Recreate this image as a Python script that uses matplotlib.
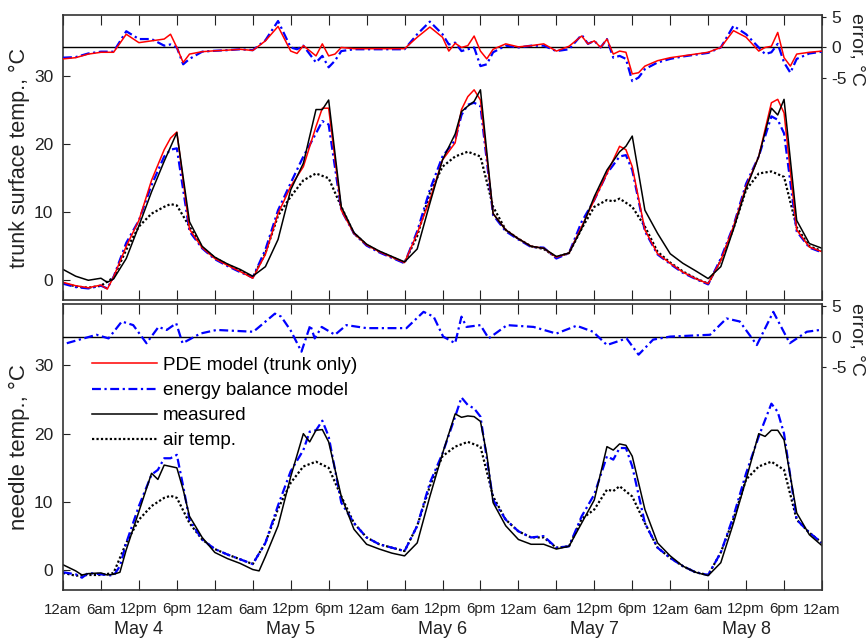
import numpy as np
import matplotlib.pyplot as plt
from matplotlib.lines import Line2D
from matplotlib.transforms import blended_transform_factory

plt.rcParams['font.family'] = ['Liberation Sans', 'DejaVu Sans']

# hours since 12am May 4
# ---- trunk surface (top panel) ----
trunk_meas_t = [0, 2, 4, 6, 7, 8, 10, 12, 14, 16, 18, 20, 22, 24, 26, 28, 30, 32, 34, 36, 38, 40, 41, 42,
                44, 46, 48, 50, 52, 54, 56, 58, 60, 62, 63, 64, 65, 66, 68, 70, 72, 74, 76, 78, 80, 82,
                84, 86, 88, 89, 90, 92, 94, 96, 98, 100, 102, 104, 106, 108, 110, 112, 113, 114, 116, 118, 120]
trunk_meas = [1.6, 0.6, 0.0, 0.3, -0.3, 0.2, 3.2, 8.0, 13.0, 17.5, 21.7, 8.6, 5.0, 3.4, 2.4, 1.6, 0.6, 2.0, 6.0,
              13.3, 17.2, 25.1, 25.1, 26.5, 10.8, 7.0, 5.3, 4.3, 3.5, 2.7, 4.6, 11.3, 17.7, 21.5, 24.8, 25.6,
              26.3, 28.0, 9.8, 7.4, 6.1, 5.0, 4.7, 3.5, 4.0, 7.6, 12.3, 16.2, 18.9, 19.7, 21.2, 10.3, 6.9,
              3.9, 2.5, 1.4, 0.25, 2.0, 7.5, 13.5, 18.2, 25.3, 24.3, 26.6, 8.8, 5.4, 4.7]

trunk_t = [0, 2, 4, 6, 7, 8, 10, 12, 14, 16, 17, 18, 20, 22, 24, 26, 28, 30, 32, 34, 36, 38, 40, 41, 42,
           44, 46, 48, 50, 52, 54, 56, 58, 60, 62, 63, 64, 65, 66, 68, 70, 72, 74, 76, 78, 80, 82,
           84, 86, 88, 89, 90, 92, 94, 96, 98, 100, 102, 104, 106, 108, 110, 112, 113, 114, 116, 118, 120]
trunk_pde = [-0.3, -0.8, -1.1, -0.7, -1.3, 0.5, 5.0, 8.8, 14.7, 19.2, 20.9, 21.8, 7.5, 4.8, 3.2, 2.2, 1.3, 0.3,
             3.8, 9.8, 13.8, 16.7, 22.6, 25.3, 25.3, 10.3, 6.9, 5.2, 4.2, 3.4, 2.6, 6.9, 11.8, 17.7, 20.2,
             25.1, 27.0, 28.0, 26.5, 9.8, 7.4, 6.1, 5.0, 4.7, 3.4, 4.0, 7.9, 11.8, 15.7, 19.7, 19.2, 16.7,
             7.4, 3.9, 2.5, 1.2, 0.25, -0.5, 2.9, 7.9, 13.8, 18.2, 26.1, 26.6, 24.6, 7.4, 4.9, 4.2]
trunk_ebm = [-0.5, -1.0, -1.2, -0.8, -1.2, 0.5, 5.5, 8.8, 14.0, 18.2, 19.2, 19.4, 7.2, 4.7, 3.1, 2.1, 1.2, 0.4,
             4.5, 10.3, 14.3, 18.2, 21.6, 23.4, 22.9, 10.3, 6.9, 5.1, 4.1, 3.3, 2.5, 7.2, 13.3, 18.2, 20.6,
             24.3, 25.8, 26.1, 25.6, 9.6, 7.2, 6.0, 4.9, 4.8, 3.2, 4.0, 8.6, 11.8, 15.7, 18.2, 18.4, 16.2,
             7.2, 3.8, 2.4, 1.1, 0.2, -0.6, 3.2, 8.0, 14.2, 18.2, 24.1, 23.6, 21.6, 7.2, 4.8, 4.1]

trunk_air_t = [0, 2, 4, 6, 8, 10, 12, 14, 16, 17, 18, 20, 22, 24, 26, 28, 30, 32, 34, 36, 38, 40, 42, 44,
               46, 48, 50, 52, 54, 56, 58, 60, 62, 64, 66, 68, 70, 72, 74, 76, 78, 80, 82, 84, 86, 87,
               88, 90, 92, 94, 96, 98, 100, 102, 104, 106, 108, 110, 112, 114, 116, 118, 120]
trunk_air = [-0.4, -0.9, -1.1, -0.8, 0.4, 4.5, 7.9, 9.8, 10.8, 11.2, 11.0, 7.9, 4.8, 3.3, 2.3, 1.4, 0.4, 4.0,
             9.5, 12.3, 14.7, 15.7, 15.0, 10.8, 6.9, 5.2, 4.2, 3.4, 2.6, 6.5, 12.8, 16.7, 18.2, 18.9, 18.2,
             10.8, 7.4, 6.1, 5.0, 4.6, 3.4, 4.0, 7.6, 10.8, 11.8, 11.6, 12.0, 10.8, 7.9, 4.2, 2.6, 1.3, 0.3,
             -0.5, 2.9, 7.6, 13.3, 15.7, 16.0, 15.2, 7.8, 5.0, 4.3]

trunk_err_t = [0, 2, 4, 6, 8, 10, 12, 14, 16, 17, 18, 19, 20, 22, 24, 26, 28, 30, 32, 34, 36, 37, 38, 40,
               41, 42, 43, 44, 46, 50, 54, 56, 58, 60, 61, 62, 63, 64, 65, 66, 67, 68, 70, 72, 74, 76,
               78, 80, 82, 83, 84, 85, 86, 87, 88, 89, 90, 91, 92, 94, 96, 98, 100, 102, 104, 106, 108,
               110, 111, 112, 113, 114, 115, 116, 118, 120]
trunk_err_pde = [-1.9, -1.7, -1.1, -0.8, -0.8, 2.2, 0.8, 1.1, 1.4, 2.2, 0, -2.5, -1.1, -0.7, -0.55, -0.45,
                 -0.3, -0.5, 1.1, 3.5, -0.6, -1.0, 0.3, -1.4, 0.6, -1.4, -1.1, 0, -0.2, -0.2, -0.2, 1.7,
                 3.4, 1.7, -0.6, 0.7, 0, 0.3, 1.9, -0.6, -1.9, -0.3, 0.6, 0.1, 0.3, 0.6, -0.6, 0.2, 1.9,
                 0.6, 1.1, 0, 1.4, -1.1, -0.6, -0.8, -4.4, -4.2, -3.1, -2.2, -1.7, -1.4, -1.1, -0.8, 0,
                 2.8, 1.7, -0.6, 0, 0.2, 2.5, -1.7, -3.1, -1.1, -0.8, -0.6]
trunk_err_ebm = [-1.7, -1.6, -1.0, -0.7, -0.7, 2.7, 1.4, 1.4, 0.3, 0.5, 0, -2.8, -1.9, -0.7, -0.55, -0.45,
                 -0.3, -0.45, 1.2, 4.4, 0, -0.3, 0.3, -2.5, -1.4, -3.3, -2.2, -0.6, -0.3, -0.3, -0.3, 2.2,
                 4.3, 2.2, 0.5, 0.8, -0.6, -0.3, 0, -3.1, -2.8, -0.8, 0.3, 0.0, 0.3, 0.3, -0.6, -0.3, 2.1,
                 0.6, 1.1, 0, 1.4, -1.7, -1.4, -1.9, -5.6, -5.0, -3.6, -2.5, -1.9, -1.5, -1.2, -0.9, 0,
                 3.6, 2.2, 0, -1.1, -0.8, 0.6, -2.5, -4.2, -1.9, -1.0, -0.7]

# ---- needles (bottom panel) ----
needle_meas_t = [0, 2, 3, 4, 6, 7, 8, 9, 10, 12, 14, 15, 16, 18, 19, 20, 22, 24, 26, 28, 30, 31, 32, 34, 36,
                 38, 39, 40, 41, 42, 44, 46, 48, 50, 52, 54, 56, 58, 60, 62, 63, 64, 65, 66, 67, 68, 70, 72,
                 74, 76, 78, 80, 82, 84, 86, 87, 88, 89, 90, 92, 94, 96, 98, 100, 102, 104, 106, 108, 110,
                 111, 112, 113, 114, 116, 118, 120]
needle_meas = [0.8, -0.1, -0.7, -0.5, -0.4, -0.7, -0.6, -0.3, 3.0, 8.6, 14.2, 13.3, 15.4, 15.0, 11.8, 7.9,
               4.8, 2.6, 1.7, 1.0, 0.1, -0.1, 2.0, 6.5, 13.7, 20.0, 18.8, 20.5, 20.6, 18.8, 10.8, 6.0, 3.8,
               3.1, 2.5, 2.1, 4.0, 10.8, 17.1, 22.9, 22.4, 22.6, 22.5, 21.8, 17.0, 9.9, 6.5, 4.5, 3.8, 3.8,
               3.1, 3.5, 6.9, 10.3, 18.1, 17.6, 18.5, 18.3, 16.7, 8.9, 4.0, 2.1, 0.6, -0.3, -0.8, 1.1, 6.9,
               13.3, 20.0, 19.6, 20.5, 20.5, 19.1, 8.4, 5.2, 3.6]

needle_ebm_t = [0, 2, 3, 4, 6, 8, 9, 10, 12, 14, 15, 16, 17, 18, 19, 20, 22, 24, 26, 28, 30, 32, 34, 36, 38,
                39, 40, 41, 42, 44, 46, 48, 50, 52, 54, 56, 58, 60, 62, 63, 64, 65, 66, 68, 70, 72, 74, 76,
                78, 80, 82, 84, 86, 87, 88, 89, 90, 92, 94, 96, 98, 100, 102, 104, 106, 108, 110, 112,
                113, 114, 116, 118, 120]
needle_ebm = [-0.3, -0.6, -1.1, -0.4, -0.6, -0.8, 0.6, 4.0, 9.4, 14.0, 14.7, 16.4, 16.4, 16.9, 12.3, 7.4,
              4.5, 3.1, 2.3, 1.6, 0.9, 4.0, 9.5, 14.5, 17.6, 20.3, 20.5, 21.9, 19.6, 9.9, 6.9, 4.8, 3.8, 3.3,
              2.8, 6.5, 12.8, 17.1, 22.5, 25.3, 24.2, 23.7, 22.5, 10.3, 7.4, 5.7, 4.8, 5.0, 3.3, 3.5, 7.9,
              11.1, 16.7, 16.2, 17.9, 17.9, 15.2, 6.9, 3.3, 1.8, 0.6, -0.3, -0.7, 2.6, 7.9, 14.2, 19.6,
              24.4, 23.2, 20.0, 7.4, 5.5, 4.0]

needle_air_t = [0, 2, 4, 6, 8, 10, 12, 14, 16, 17, 18, 20, 22, 24, 26, 28, 30, 32, 34, 36, 38, 40, 42, 44,
                46, 48, 50, 52, 54, 56, 58, 60, 62, 64, 66, 68, 70, 72, 74, 76, 78, 80, 82, 84, 86, 87,
                88, 90, 92, 94, 96, 98, 100, 102, 104, 106, 108, 110, 112, 114, 116, 118, 120]
needle_air = [-0.4, -0.8, -0.7, -0.7, -0.4, 4.0, 7.4, 9.4, 10.6, 10.9, 10.6, 6.9, 4.5, 3.1, 2.3, 1.6, 0.9,
              4.0, 9.0, 12.8, 15.2, 15.9, 15.0, 10.8, 6.9, 4.8, 3.8, 3.3, 2.8, 6.5, 12.3, 16.7, 18.1, 18.8,
              18.1, 10.8, 7.4, 5.7, 4.8, 4.8, 3.3, 3.5, 7.5, 8.9, 11.8, 11.6, 12.3, 10.8, 6.9, 3.3, 1.8,
              0.6, -0.3, -0.7, 2.6, 7.5, 13.3, 15.2, 15.9, 14.7, 7.4, 5.5, 4.0]

needle_err_t = [0.6, 5.3, 7.2, 9.3, 11.1, 13.2, 15.1, 16.4, 17.9, 18.9, 21.7, 24.3, 30.1, 33.5, 34.5, 36,
                37.7, 39.1, 39.8, 40.9, 43.0, 44.8, 48, 54.3, 57.0, 58.6, 60.1, 62.0, 63.0, 63.8, 66.0,
                67.3, 70.2, 74.4, 78.0, 81.2, 83.8, 86.0, 89.1, 91.0, 93.3, 96.0, 102.3, 104.9, 107.0,
                109.7, 112.3, 114.9, 117.6, 119.7, 120]
needle_err_ebm = [-1.1, 0.3, -0.3, 2.5, 1.9, -1.1, 1.6, 1.1, 2.2, -1.1, 0.5, 1.1, 0.8, 3.8, 3.3, 1.0, -2.5,
                  1.9, -0.3, 1.6, 0.3, 1.9, 1.4, 1.4, 4.1, 3.3, 0, -1.1, 3.3, 1.6, 1.9, -0.3, 1.9, 1.6,
                  0.5, 1.8, 0.8, -1.4, -0.3, -3.0, -0.5, 0, 0.3, 3.0, 2.5, -1.4, 4.1, -1.1, 0.8, 1.1, 1.0]

tick_names = ['12am', '6am', '12pm', '6pm'] * 5 + ['12am']
days = ['May 4', 'May 5', 'May 6', 'May 7', 'May 8']

RED = '#ff0000'
BLUE = '#0000ff'
TXT = '#222222'
ebm_ls = (0, (4, 1.6, 1, 1.6))
air_ls = (0, (1, 1))

W, H = 867, 639
fig = plt.figure(figsize=(W / 100, H / 100), dpi=100)
ax1 = fig.add_axes([63 / W, 1 - 300 / H, 759 / W, 285 / H])
ax2 = fig.add_axes([63 / W, 1 - 590 / H, 759 / W, 286 / H])


def setup(ax, ylabel, label_size, show_x):
    ax.set_xlim(0, 120)
    ax.set_ylim(-2.9, 39)
    ax.set_xticks(np.arange(0, 121, 6))
    ax.set_yticks([0, 10, 20, 30])
    ax.tick_params(axis='both', direction='in', top=True, right=True, colors=TXT)
    ax.tick_params(axis='y', length=5, labelsize=12.5, pad=7)
    ax.tick_params(axis='x', length=7, labelsize=10.8, pad=9, labelbottom=show_x)
    if show_x:
        ax.set_xticklabels(tick_names)
    for s in ax.spines.values():
        s.set_color('#333333')
        s.set_linewidth(1.2)
    ax.set_ylabel(ylabel, fontsize=label_size, color=TXT)
    ax.yaxis.set_label_coords(-0.043, 0.5)


def setup_err(ax, label_y):
    ex = ax.twinx()
    ex.set_ylim(-42, 5.4)
    ex.set_yticks([-5, 0, 5])
    ex.set_yticklabels(['-5', '0', '5'])
    ex.tick_params(axis='y', direction='out', length=3, labelsize=12.5, pad=4, colors=TXT)
    ex.axhline(0, color='k', lw=1.0)
    for s in ex.spines.values():
        s.set_visible(False)
    fig.text(857 / W, 1 - label_y / H, 'error, °C', rotation=270, ha='center', va='center',
             fontsize=14, color=TXT)
    return ex


setup(ax1, 'trunk surface temp., °C', 15.5, False)
setup(ax2, 'needle temp., °C', 16, True)
e1 = setup_err(ax1, 49)
e2 = setup_err(ax2, 339)

# top panel
ax1.plot(trunk_air_t, trunk_air, color='k', lw=1.6, ls=air_ls)
ax1.plot(trunk_t, trunk_ebm, color=BLUE, lw=1.6, ls=ebm_ls)
ax1.plot(trunk_t, trunk_pde, color=RED, lw=1.1)
ax1.plot(trunk_meas_t, trunk_meas, color='k', lw=1.1)
e1.plot(trunk_err_t, trunk_err_ebm, color=BLUE, lw=1.6, ls=ebm_ls)
e1.plot(trunk_err_t, trunk_err_pde, color=RED, lw=1.1)

# bottom panel
ax2.plot(needle_air_t, needle_air, color='k', lw=1.6, ls=air_ls)
ax2.plot(needle_ebm_t, needle_ebm, color=BLUE, lw=1.6, ls=ebm_ls)
ax2.plot(needle_meas_t, needle_meas, color='k', lw=1.1)
e2.plot(needle_err_t, needle_err_ebm, color=BLUE, lw=1.6, ls=ebm_ls)

handles = [Line2D([], [], color=RED, lw=1.1),
           Line2D([], [], color=BLUE, lw=1.6, ls=ebm_ls),
           Line2D([], [], color='k', lw=1.1),
           Line2D([], [], color='k', lw=1.6, ls=air_ls)]
labels = ['PDE model (trunk only)', 'energy balance model', 'measured', 'air temp.']
ax2.legend(handles, labels, loc='upper left', bbox_to_anchor=(0.028, 0.842), frameon=False,
           fontsize=13.6, handlelength=3.45, handletextpad=0.3, labelspacing=0.42, borderaxespad=0)

trans = blended_transform_factory(ax2.transData, fig.transFigure)
for i, d in enumerate(days):
    ax2.text(12 + 24 * i, 1 - 629 / H, d, transform=trans, ha='center', va='center',
             fontsize=13, color=TXT)

fig.savefig('out.png', dpi=100)
